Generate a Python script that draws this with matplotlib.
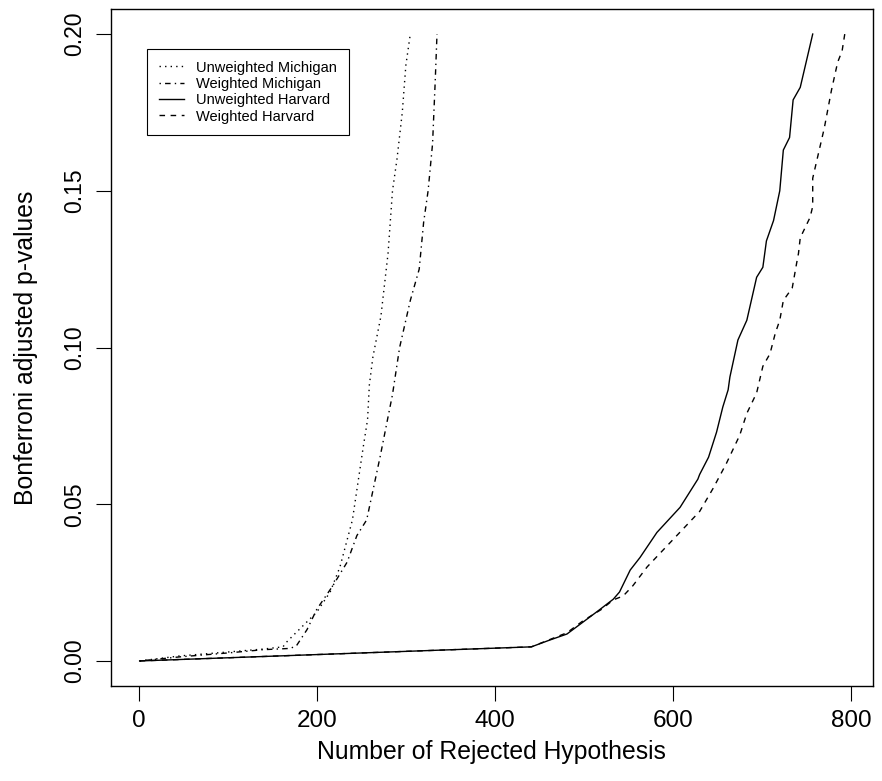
import matplotlib

matplotlib.use("Agg")
import matplotlib.pyplot as plt

# values
mich_unw_x = [1, 46, 102, 140, 162, 166, 173, 200, 215, 226, 240, 252, 257, 259,
              263, 272, 280, 285, 290, 296, 300, 305]
mich_unw_y = [0.0, 0.0016, 0.0029, 0.0038, 0.0045, 0.006, 0.008, 0.0156, 0.022,
              0.030, 0.045, 0.068, 0.077, 0.088, 0.097, 0.11, 0.13, 0.15, 0.16,
              0.175, 0.19, 0.2]

mich_w_x = [1, 46, 102, 140, 170, 177, 189, 200, 218, 234, 245, 256, 271, 285,
            293, 305, 315, 320, 325, 330, 333, 335]
mich_w_y = [0.0, 0.0013, 0.0026, 0.0036, 0.004, 0.0048, 0.010, 0.0165, 0.024,
            0.0315, 0.040, 0.045, 0.065, 0.085, 0.10, 0.115, 0.125, 0.14, 0.15,
            0.165, 0.185, 0.2]

harv_unw_x = [1, 441, 460, 481, 499, 516, 533, 540, 552, 563, 582, 608, 628, 630,
              640, 649, 656, 662, 664, 673, 683, 694, 701, 705, 713, 720, 724,
              731, 735, 743, 757]
harv_unw_y = [0.0, 0.0045, 0.0065, 0.0086, 0.0124, 0.016, 0.0197, 0.022, 0.029,
              0.033, 0.041, 0.049, 0.058, 0.0595, 0.065, 0.073, 0.081, 0.0865,
              0.0906, 0.1024, 0.1087, 0.1224, 0.1256, 0.134, 0.1405, 0.150,
              0.163, 0.167, 0.179, 0.183, 0.2]

harv_w_x = [1, 441, 481, 499, 520, 533, 544, 555, 571, 593, 611, 630, 645, 660,
            675, 683, 694, 701, 709, 715, 720, 724, 734, 739, 741, 743, 754, 757,
            757, 770, 778, 785, 790, 793]
harv_w_y = [0.0, 0.0045, 0.009, 0.0128, 0.0165, 0.0195, 0.0207, 0.024, 0.030,
            0.0366, 0.042, 0.0477, 0.055, 0.063, 0.072, 0.079, 0.0855, 0.094,
            0.098, 0.1046, 0.1087, 0.115, 0.119, 0.127, 0.130, 0.135, 0.1415,
            0.145, 0.154, 0.170, 0.182, 0.191, 0.1946, 0.2]

x_ticks = [0, 200, 400, 600, 800]
y_ticks = [0.00, 0.05, 0.10, 0.15, 0.20]

plt.rcParams.update({
    "font.family": ["Liberation Sans", "DejaVu Sans"],
    "font.size": 16,
    "axes.linewidth": 1.0,
})

fig = plt.figure(figsize=(8.82, 7.81), dpi=100)
ax = fig.add_axes([0.1253, 0.1216, 0.8645, 0.8669])

lw = 1.0
ax.plot(mich_unw_x, mich_unw_y, color="black", lw=lw, dashes=(1, 3),
        label="Unweighted Michigan")
ax.plot(mich_w_x, mich_w_y, color="black", lw=lw, dashes=(1, 3, 4, 3),
        label="Weighted Michigan")
ax.plot(harv_unw_x, harv_unw_y, color="black", lw=lw,
        label="Unweighted Harvard")
ax.plot(harv_w_x, harv_w_y, color="black", lw=lw, dashes=(4, 4),
        label="Weighted Harvard")

# R style: 4% padding on both axes
xmax = max(harv_w_x)
ax.set_xlim(-0.04 * xmax, 1.04 * xmax)
ax.set_ylim(-0.04 * 0.2, 1.04 * 0.2)
ax.set_xticks(x_ticks)
ax.set_xticklabels([str(v) for v in x_ticks])
ax.set_yticks(y_ticks)
ax.set_yticklabels(["{:.2f}".format(v) for v in y_ticks])
ax.tick_params(direction="out", length=10.5, width=0.8)
ax.tick_params(axis="x", pad=7, labelsize=17.5)
ax.tick_params(axis="y", pad=7, labelsize=16.5)
plt.setp(ax.get_yticklabels(), rotation=90, va="center")

ax.set_xlabel("Number of Rejected Hypothesis", fontsize=17.8, va="center")
ax.xaxis.set_label_coords(0.5, -0.0975)
ax.set_ylabel("Bonferroni adjusted p-values", fontsize=17.8, va="center")
ax.yaxis.set_label_coords(-0.111, 0.5)

leg = ax.legend(loc="upper left", bbox_to_anchor=(0.048, 0.941),
                borderaxespad=0, fontsize=10.5, handlelength=1.7,
                handletextpad=0.85, labelspacing=0.16, borderpad=0.8,
                fancybox=False, framealpha=1, edgecolor="black")
leg.get_frame().set_linewidth(0.8)

fig.savefig("out.png", dpi=100)
